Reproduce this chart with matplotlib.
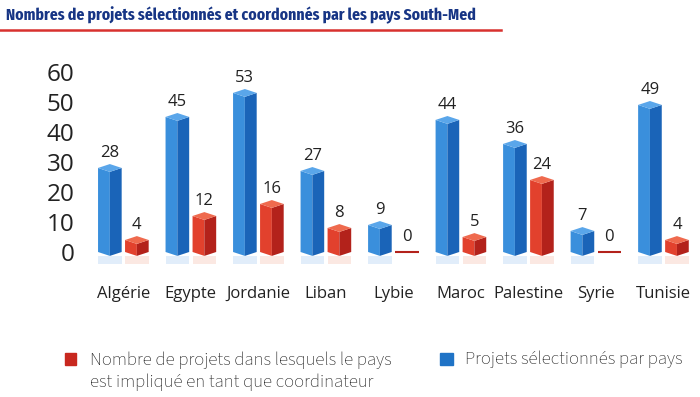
import matplotlib.pyplot as plt
from matplotlib.patches import Rectangle
from matplotlib.lines import Line2D
import numpy as np

plt.rcParams['font.family'] = ['Open Sans', 'DejaVu Sans']

pays = ['Algérie', 'Egypte', 'Jordanie', 'Liban', 'Lybie', 'Maroc', 'Palestine', 'Syrie', 'Tunisie']
selectionnes = [28, 45, 53, 27, 9, 44, 36, 7, 49]
coordinateur = [4, 12, 16, 8, 0, 5, 24, 0, 4]
label_coord = 'Nombre de projets dans lesquels le pays\nest impliqué en tant que coordinateur'
label_sel = 'Projets sélectionnés par pays'
titre = 'Nombres de projets sélectionnés et coordonnés par les pays South-Med'

blue = {'left': '#3a8fdc', 'right': '#1a64b8', 'top': '#5aa6ea', 'glow': '#9cc4f0'}
red = {'left': '#e2412d', 'right': '#b3221b', 'top': '#ef6a4e', 'glow': '#f4b3a0'}
leg_font = ['Source Sans 3', 'DejaVu Sans']

fig = plt.figure(figsize=(7.0, 3.97), dpi=100)
ax = fig.add_axes([0.128, 0.335, 0.868, 0.499])

x = np.arange(len(pays))
w = 0.35
off = 0.2
d = 1.3  # depth of the pointed cap / base


def draw_bars(xs, vals, c):
    for xc, v in zip(xs, vals):
        if v == 0:
            ax.hlines(0, xc - w / 2, xc + w / 2, color=c['right'], lw=1.5)
        else:
            # reflection under the bar
            ax.bar(xc, -3.5, bottom=-d, width=w, color=c['glow'], alpha=0.3, lw=0)
            ax.fill([xc - w / 2, xc, xc, xc - w / 2], [0, -d, v - d, v], color=c['left'], lw=0)
            ax.fill([xc, xc + w / 2, xc + w / 2, xc], [-d, 0, v, v - d], color=c['right'], lw=0)
            ax.fill([xc - w / 2, xc, xc + w / 2, xc], [v, v + d, v, v - d], color=c['top'], lw=0)
        ax.text(xc, v + 2.2, str(v), ha='center', va='bottom', fontsize=12, color='#222222')


draw_bars(x - off, selectionnes, blue)
draw_bars(x + off, coordinateur, red)

ax.set_xlim(-0.5, len(pays) - 0.5)
ax.set_ylim(-4, 62)
ax.set_yticks(range(0, 61, 10))
ax.tick_params(axis='y', length=0, labelsize=17.5, pad=11, labelcolor='#222222')
ax.set_xticks(x)
ax.set_xticklabels(pays)
ax.tick_params(axis='x', length=0, labelsize=12, pad=16, labelcolor='#222222')
for s in ax.spines.values():
    s.set_visible(False)

fig.text(0.008, 0.962, titre, fontsize=12.2, fontweight='bold', color='#173585', va='center',
         family=['Fira Sans Extra Condensed', 'DejaVu Sans'])
fig.add_artist(Line2D([0.0, 0.715], [0.924, 0.924], color='#d8312f', lw=1.8))

# legend
fig.add_artist(Rectangle((0.093, 0.081), 0.0157, 0.03, color='#c8281f'))
fig.text(0.128, 0.0655, label_coord, fontsize=13.5, color='#222222', va='center', ha='left',
         linespacing=1.3, family=leg_font)
fig.add_artist(Rectangle((0.629, 0.081), 0.0186, 0.03, color='#1f73c6'))
fig.text(0.664, 0.095, label_sel, fontsize=13.5, color='#222222', va='center', ha='left',
         family=leg_font)

fig.savefig('out.png', dpi=100)
